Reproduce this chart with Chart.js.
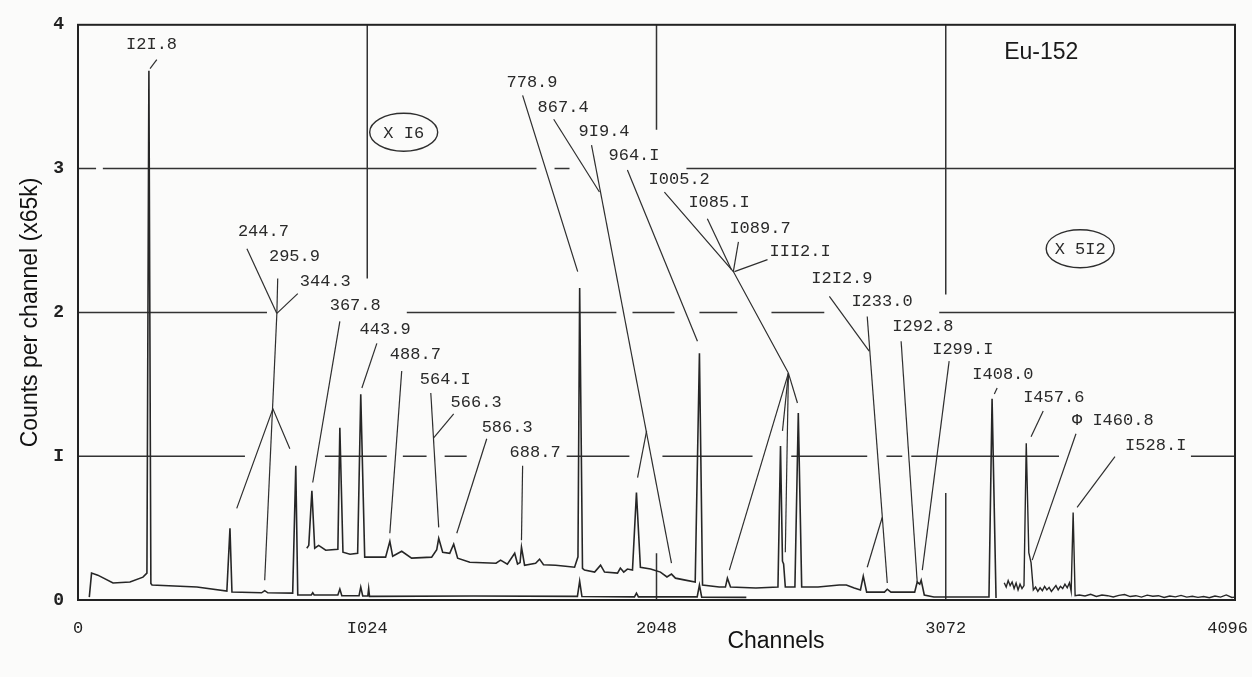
<!DOCTYPE html>
<html><head><meta charset="utf-8">
<script src="https://cdn.jsdelivr.net/npm/chart.js@4.4.1/dist/chart.umd.min.js"></script>
<style>html,body{margin:0;padding:0;background:#fbfbfa;}#wrap{width:1252px;height:677px;}</style>
</head><body><div id="wrap"><canvas id="c" width="1252" height="677"></canvas></div>
<script>
// ---- axis ticks ----
const xTickValues = [0, 1024, 2048, 3072, 4096];
const xTickLabels = ['0', 'I024', '2048', '3072', '4096'];
const yTickValues = [0, 1, 2, 3, 4];
const yTickLabels = ['0', 'I', '2', '3', '4'];

// ---- spectrum, gain x1 ----
const lowChannels = [40,48,70,124,184,230,244,251,258,262,421,527,538,545,650,661,672,760,771,778,826,831,836,920,927,934,995,1001,1008,1026,1029,1032,1400,1768,1776,1784,1970,1977,1984,2192,2200,2208,2366];
const lowCounts   = [0.02,0.187,0.173,0.118,0.125,0.159,0.187,3.68,0.115,0.104,0.09,0.062,0.498,0.055,0.05,0.065,0.05,0.048,0.934,0.035,0.035,0.05,0.035,0.035,0.076,0.03,0.03,0.09,0.028,0.028,0.08,0.025,0.028,0.025,0.131,0.024,0.022,0.048,0.022,0.022,0.104,0.02,0.018];

// ---- spectrum, gain x16 ----
const x16Channels = [810,817,828,838,852,877,920,927,938,963,990,1001,1015,1089,1104,1114,1146,1181,1252,1270,1277,1291,1316,1330,1344,1387,1480,1496,1520,1546,1556,1565,1570,1581,1620,1634,1648,1691,1726,1758,1770,1776,1786,1793,1829,1850,1864,1910,1920,1932,1945,1963,1977,1991,2027,2062,2085,2101,2115,2150,2185,2200,2211,2270,2292,2299,2310,2400,2478,2487,2494,2498,2504,2538,2550,2562,2620,2695,2720,2748,2770,2780,2792,2855,2865,2878,2962,2971,2980,2985,2996,3030,3225,3236,3250];
const x16Counts   = [0.36,0.38,0.76,0.36,0.38,0.346,0.353,1.197,0.332,0.318,0.325,1.43,0.298,0.298,0.408,0.304,0.339,0.291,0.298,0.35,0.429,0.332,0.325,0.388,0.291,0.263,0.256,0.277,0.249,0.325,0.25,0.26,0.367,0.242,0.256,0.284,0.245,0.242,0.235,0.228,0.3,2.17,0.22,0.208,0.194,0.242,0.194,0.187,0.222,0.194,0.215,0.208,0.747,0.228,0.215,0.194,0.16,0.18,0.152,0.138,0.125,1.716,0.104,0.09,0.09,0.152,0.09,0.083,0.09,1.07,0.27,0.25,0.09,0.09,1.30,0.09,0.09,0.104,0.104,0.083,0.07,0.166,0.055,0.055,0.075,0.055,0.055,0.125,0.11,0.138,0.035,0.021,0.021,1.40,0.014];

// ---- spectrum, gain x512 ----
const x512Channels = [3279,3286,3293,3300,3307,3314,3321,3328,3335,3342,3349,3357,3366,3374,3382,3390,3398,3406,3414,3422,3430,3438,3446,3454,3462,3470,3478,3486,3494,3502,3510,3516,3523,3530,3545,3565,3585,3605,3625,3645,3665,3685,3705,3725,3745,3765,3785,3805,3825,3845,3865,3885,3905,3925,3945,3965,3985,4005,4025,4045,4065,4085,4096];
const x512Counts   = [0.12,0.09,0.135,0.1,0.125,0.08,0.118,0.07,0.11,0.08,0.1,1.09,0.33,0.26,0.07,0.09,0.06,0.085,0.065,0.095,0.07,0.088,0.06,0.08,0.1,0.07,0.095,0.08,0.11,0.085,0.12,0.06,0.609,0.03,0.035,0.028,0.04,0.025,0.035,0.03,0.021,0.032,0.038,0.024,0.03,0.02,0.034,0.026,0.03,0.018,0.028,0.022,0.032,0.02,0.026,0.018,0.024,0.016,0.028,0.02,0.035,0.018,0.02];

// ---- peak energy labels (keV) ----
const peakLabels = ['I2I.8','244.7','295.9','344.3','367.8','443.9','488.7','564.I','566.3','586.3','688.7','778.9','867.4','9I9.4','964.I','I005.2','I085.I','I089.7','III2.I','I2I2.9','I233.0','I292.8','I299.I','I408.0','I457.6','\u03A6 I460.8','I528.I'];
// label anchors in data units [channel, counts] (left edge, vertical middle)
const peakLabelAnchors = [[170,3.862],[566,2.561],[676,2.388],[785,2.215],[891,2.048],[997,1.882],[1104,1.709],[1210,1.536],[1319,1.370],[1429,1.197],[1528,1.024],[1517,3.599],[1627,3.426],[1772,3.260],[1878,3.093],[2020,2.927],[2161,2.761],[2306,2.581],[2448,2.422],[2596,2.235],[2738,2.076],[2883,1.903],[3024,1.744],[3166,1.571],[3346,1.405],[3519,1.246],[3707,1.073]];
// leader lines, data units
const leaderLines = [
 [[279,3.758],[255,3.696]],
 [[598,2.443],[704,1.993]],
 [[707,2.235],[704,1.993]],
 [[778,2.131],[704,1.993]],
 [[704,1.993],[661,0.138]],
 [[562,0.637],[690,1.329],[750,1.052]],
 [[927,1.938],[831,0.817]],
 [[1058,1.785],[1005,1.474]],
 [[1146,1.592],[1104,0.464]],
 [[1249,1.439],[1277,0.505]],
 [[1330,1.294],[1259,1.128]],
 [[1447,1.121],[1341,0.464]],
 [[1574,0.934],[1570,0.415]],
 [[1574,3.509],[1769,2.284]],
 [[1684,3.343],[1846,2.837]],
 [[1818,3.163],[2101,0.256]],
 [[2013,1.176],[1981,0.851]],
 [[1945,2.990],[2193,1.799]],
 [[2076,2.837],[2320,2.284],[2515,1.578]],
 [[2515,1.578],[2306,0.208]],
 [[2515,1.578],[2494,1.176]],
 [[2515,1.578],[2504,0.332]],
 [[2515,1.578],[2547,1.370]],
 [[2228,2.651],[2313,2.298]],
 [[2338,2.491],[2320,2.284]],
 [[2441,2.367],[2324,2.284]],
 [[2660,2.111],[2801,1.730]],
 [[2794,1.972],[2865,0.118]],
 [[2847,0.574],[2794,0.228]],
 [[2914,1.799],[2971,0.125]],
 [[3084,1.661],[2989,0.208]],
 [[3254,1.474],[3244,1.433]],
 [[3417,1.315],[3374,1.135]],
 [[3533,1.156],[3378,0.277]],
 [[3671,0.997],[3537,0.644]]
];
// gain tags
const gainTags = ['X I6', 'X 5I2'];
const gainTagAnchors = [[1153,3.253],[3548,2.443]];
const sourceName = 'Eu-152';
const sourceAnchor = [3279, 3.806];

// grid drawn as the broken lines of the original sheet (data units)
const hGrid = [
 {y:1, spans:[[0,591],[874,1093],[1150,1234],[1298,1376],[1730,1952],[2069,2388],[2525,2794],[2862,2918],[2950,3473],[3940,4096]]},
 {y:2, spans:[[0,669],[1164,1906],[1963,2112],[2200,2334],[2455,2642],[3049,4096]]},
 {y:3, spans:[[0,64],[88,1623],[1687,1740],[2154,4096]]}
];
const vGrid = [
 {x:1024, spans:[[2.235,4]]},
 {x:2048, spans:[[3.27,4],[0,0.325]]},
 {x:3072, spans:[[2.125,4],[0,0.744]]}
];

const toXY = (xs, ys) => xs.map((c, i) => ({x: c, y: ys[i]}));
const INK = '#262626';
const MONO = '"Liberation Mono", "DejaVu Sans Mono", monospace';
const SANS = '"Liberation Sans", Arial, sans-serif';

const deco = {
  id: 'deco',
  beforeDatasetsDraw(chart) {
    const {ctx, scales:{x, y}} = chart;
    ctx.save();
    ctx.strokeStyle = '#333';
    ctx.lineWidth = 1.5;
    ctx.beginPath();
    hGrid.forEach(g => g.spans.forEach(([a, b]) => {
      ctx.moveTo(x.getPixelForValue(a), y.getPixelForValue(g.y));
      ctx.lineTo(x.getPixelForValue(b), y.getPixelForValue(g.y));
    }));
    vGrid.forEach(g => g.spans.forEach(([a, b]) => {
      ctx.moveTo(x.getPixelForValue(g.x), y.getPixelForValue(a));
      ctx.lineTo(x.getPixelForValue(g.x), y.getPixelForValue(b));
    }));
    ctx.stroke();
    ctx.restore();
  },
  afterDatasetsDraw(chart) {
    const {ctx, chartArea: ca, scales:{x, y}} = chart;
    const px = v => x.getPixelForValue(v), py = v => y.getPixelForValue(v);
    ctx.save();
    // frame
    ctx.strokeStyle = '#222';
    ctx.lineWidth = 2;
    ctx.strokeRect(ca.left, ca.top, ca.right - ca.left, ca.bottom - ca.top);
    // leaders
    ctx.strokeStyle = '#2e2e2e';
    ctx.lineWidth = 1.2;
    leaderLines.forEach(line => {
      ctx.beginPath();
      line.forEach(([c, v], i) => i ? ctx.lineTo(px(c), py(v)) : ctx.moveTo(px(c), py(v)));
      ctx.stroke();
    });
    // peak labels
    ctx.fillStyle = '#2a2a2a';
    ctx.font = '17px ' + MONO;
    ctx.textAlign = 'left';
    ctx.textBaseline = 'middle';
    peakLabels.forEach((t, i) => ctx.fillText(t, px(peakLabelAnchors[i][0]), py(peakLabelAnchors[i][1])));
    // gain tags in ellipses
    ctx.textAlign = 'center';
    gainTags.forEach((t, i) => {
      const cx = px(gainTagAnchors[i][0]), cy = py(gainTagAnchors[i][1]);
      ctx.beginPath();
      ctx.ellipse(cx, cy, 34, 19, 0, 0, Math.PI * 2);
      ctx.lineWidth = 1.4;
      ctx.stroke();
      ctx.fillText(t, cx, cy + 1);
    });
    // source name
    ctx.font = '23px ' + SANS;
    ctx.fillStyle = '#1a1a1a';
    ctx.textAlign = 'left';
    ctx.fillText(sourceName, px(sourceAnchor[0]), py(sourceAnchor[1]));
    // x tick labels
    ctx.font = '17px ' + MONO;
    ctx.fillStyle = '#222';
    xTickValues.forEach((v, i) => {
      const last = i === xTickValues.length - 1;
      ctx.textAlign = last ? 'right' : 'center';
      ctx.fillText(xTickLabels[i], last ? px(v) + 13 : px(v), ca.bottom + 28);
    });
    // axis titles
    ctx.font = '23px ' + SANS;
    ctx.fillStyle = '#111';
    ctx.textAlign = 'center';
    ctx.fillText('Channels', 776, ca.bottom + 42);
    ctx.translate(31, (ca.top + ca.bottom) / 2);
    ctx.rotate(-Math.PI / 2);
    ctx.fillText('Counts per channel (x65k)', 0, 0);
    ctx.restore();
  }
};

const lineStyle = {borderColor: INK, borderWidth: 1.6, pointRadius: 0, tension: 0, fill: false};

new Chart(document.getElementById('c'), {
  type: 'line',
  data: {
    datasets: [
      {label: 'x1', data: toXY(lowChannels, lowCounts), ...lineStyle},
      {label: 'x16', data: toXY(x16Channels, x16Counts), ...lineStyle},
      {label: 'x512', data: toXY(x512Channels, x512Counts), ...lineStyle, borderWidth: 1.4}
    ]
  },
  options: {
    responsive: false,
    animation: false,
    layout: {padding: {top: 20, right: 17, left: 0, bottom: 0}},
    plugins: {legend: {display: false}, tooltip: {enabled: false}},
    scales: {
      x: {
        type: 'linear', min: 0, max: 4096,
        grid: {display: false}, border: {display: false},
        ticks: {display: false},
        afterBuildTicks: s => { s.ticks = xTickValues.map(v => ({value: v})); },
        afterFit: s => { s.height = 77; s.paddingLeft = 0; s.paddingRight = 0; }
      },
      y: {
        type: 'linear', min: 0, max: 4,
        grid: {display: false, drawTicks: false}, border: {display: false},
        afterBuildTicks: s => { s.ticks = yTickValues.map(v => ({value: v})); },
        ticks: {
          callback: v => yTickLabels[yTickValues.indexOf(v)],
          font: {family: MONO, size: 18, weight: 'bold'},
          color: '#222', padding: 14
        },
        afterFit: s => { s.width = 78; }
      }
    }
  },
  plugins: [deco]
});
</script></body></html>
